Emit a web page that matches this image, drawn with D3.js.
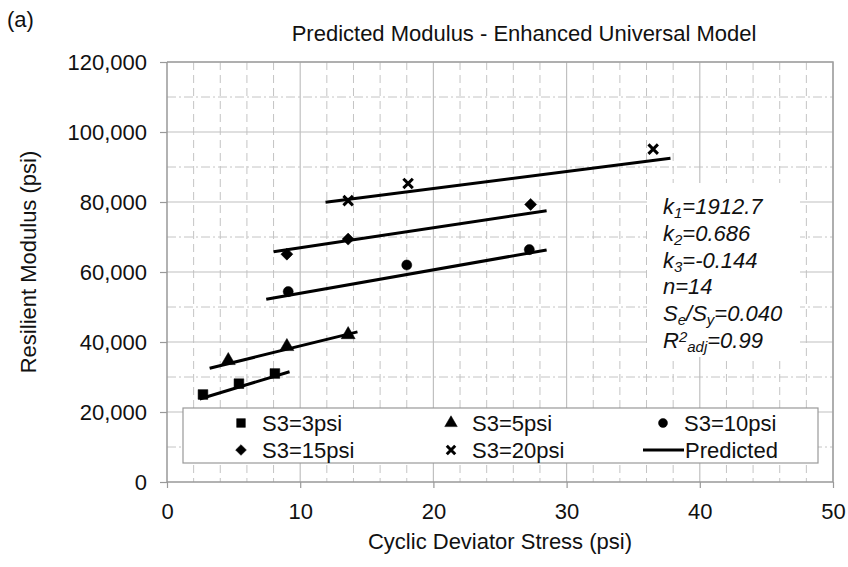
<!DOCTYPE html>
<html>
<head>
<meta charset="utf-8">
<script src="https://cdn.jsdelivr.net/npm/d3@7"></script>
<style>
  body { margin: 0; background: #fff; }
  text { font-family: "Liberation Sans", Arial, sans-serif; fill: #111; }
</style>
</head>
<body>
<div id="chart-area"></div>
<script>
// measured points, one array pair per confining stress
let s3_3_x = [2.7, 5.4, 8.1];
let s3_3_y = [25000, 28100, 31000];
let s3_5_x = [4.6, 9.0, 13.6];
let s3_5_y = [34700, 38700, 42100];
let s3_10_x = [9.1, 18.0, 27.2];
let s3_10_y = [54400, 62000, 66400];
let s3_15_x = [9.0, 13.6, 27.3];
let s3_15_y = [65100, 69400, 79300];
let s3_20_x = [13.6, 18.1, 36.5];
let s3_20_y = [80400, 85300, 95100];

// predicted lines, start and end
let pred_x = [[2.45, 9.2], [3.2, 14.3], [7.45, 28.5], [8.0, 28.5], [11.9, 37.8]];
let pred_y = [[23700, 31500], [32500, 42900], [52200, 66300], [65800, 77500], [79900, 92500]];

let xTicks = [0, 10, 20, 30, 40, 50];
let yTicks = [0, 20000, 40000, 60000, 80000, 100000, 120000];
let legendLabels = ["S3=3psi", "S3=5psi", "S3=10psi", "S3=15psi", "S3=20psi", "Predicted"];

let margin = {top: 62, right: 15, bottom: 85, left: 167};
let width = 848 - margin.left - margin.right;
let height = 567 - margin.top - margin.bottom;

let root = d3.select("#chart-area").append("svg")
    .attr("width", 848)
    .attr("height", 567);

let svg = root.append("g")
    .attr("transform", "translate(" + margin.left + "," + margin.top + ")");

let xScale = d3.scaleLinear().domain([0, 50]).range([0, width]);
let yScale = d3.scaleLinear().domain([0, 120000]).range([height, 0]);

// minor grid
svg.selectAll(".vminor")
    .data(d3.range(2, 50, 2).filter(d => d % 10 !== 0))
    .enter().append("line")
    .attr("x1", d => xScale(d)).attr("x2", d => xScale(d))
    .attr("y1", 0).attr("y2", height)
    .attr("stroke", "#c4c4c4")
    .attr("stroke-width", 1)
    .attr("stroke-dasharray", "8,5");

svg.selectAll(".hminor")
    .data(d3.range(10000, 120000, 20000))
    .enter().append("line")
    .attr("x1", 0).attr("x2", width)
    .attr("y1", d => yScale(d)).attr("y2", d => yScale(d))
    .attr("stroke", "#c4c4c4")
    .attr("stroke-width", 1)
    .attr("stroke-dasharray", "9,3,2,3");

// major grid
svg.selectAll(".vmajor")
    .data(xTicks.slice(1))
    .enter().append("line")
    .attr("x1", d => xScale(d)).attr("x2", d => xScale(d))
    .attr("y1", 0).attr("y2", height)
    .attr("stroke", "#c0c0c0")
    .attr("stroke-width", 1.2);

svg.selectAll(".hmajor")
    .data(yTicks.slice(1))
    .enter().append("line")
    .attr("x1", 0).attr("x2", width)
    .attr("y1", d => yScale(d)).attr("y2", d => yScale(d))
    .attr("stroke", "#c0c0c0")
    .attr("stroke-width", 1.2);

// plot frame top/right
svg.append("path")
    .attr("d", "M0,0H" + width + "V" + height)
    .attr("fill", "none")
    .attr("stroke", "#a0a0a0")
    .attr("stroke-width", 1.5);

// axes
let xAxis = svg.append("g")
    .attr("transform", "translate(0," + height + ")")
    .call(d3.axisBottom(xScale).tickValues(xTicks).tickSize(6).tickPadding(15));

let yAxis = svg.append("g")
    .call(d3.axisLeft(yScale).tickValues(yTicks).tickSize(7).tickPadding(13)
        .tickFormat(d3.format(",")));

[xAxis, yAxis].forEach(ax => {
    ax.select(".domain").attr("stroke", "#999").attr("stroke-width", 1.5);
    ax.selectAll(".tick line").attr("stroke", "#999").attr("stroke-width", 1.2);
    ax.selectAll(".tick text")
        .style("font-family", "'Liberation Sans', Arial, sans-serif")
        .style("font-size", "22px")
        .attr("fill", "#111");
});
xAxis.select(".domain").attr("d", "M0,0H" + width);
yAxis.select(".domain").attr("d", "M0," + height + "V0");

// white panel behind parameters
svg.append("rect")
    .attr("x", 647 - margin.left)
    .attr("y", 183 - margin.top)
    .attr("width", 153)
    .attr("height", 174)
    .attr("fill", "#fff");

// predicted lines
let line = d3.line()
    .x(d => xScale(d[0]))
    .y(d => yScale(d[1]));

pred_x.forEach((xs, i) => {
    svg.append("path")
        .datum(xs.map((x, j) => [x, pred_y[i][j]]))
        .attr("d", line)
        .attr("fill", "none")
        .attr("stroke", "#000")
        .attr("stroke-width", 3);
});

// markers (diamond = square turned 45 degrees)
let series = [
    {x: s3_3_x, y: s3_3_y, type: d3.symbolSquare, size: 95, rot: 0},
    {x: s3_5_x, y: s3_5_y, type: d3.symbolTriangle, size: 85, rot: 0},
    {x: s3_10_x, y: s3_10_y, type: d3.symbolCircle, size: 80, rot: 0},
    {x: s3_15_x, y: s3_15_y, type: d3.symbolSquare, size: 72, rot: 45},
    {x: s3_20_x, y: s3_20_y, type: d3.symbolX, size: 60, rot: 0}
];

function drawMarker(g, s, px, py, scale) {
    g.append("path")
        .attr("transform", "translate(" + px + "," + py + ") rotate(" + s.rot + ")")
        .attr("d", d3.symbol().type(s.type).size(s.size * scale))
        .attr("fill", s.type === d3.symbolX ? "none" : "#000")
        .attr("stroke", "#000")
        .attr("stroke-width", s.type === d3.symbolX ? 3 : 0.5);
}

series.forEach(s => {
    s.x.forEach((x, i) => drawMarker(svg, s, xScale(x), yScale(s.y[i]), 1));
});

// parameter text
let params = [
    [["k", 0], ["1", 1], ["=1912.7", 0]],
    [["k", 0], ["2", 1], ["=0.686", 0]],
    [["k", 0], ["3", 1], ["=-0.144", 0]],
    [["n=14", 0]],
    [["S", 0], ["e", 1], ["/S", 0], ["y", 1], ["=0.040", 0]],
    [["R", 0], ["2", -1], ["adj", 1], ["=0.99", 0]]
];

params.forEach((parts, i) => {
    let t = root.append("text")
        .attr("x", 663)
        .attr("y", 214 + i * 26.8)
        .style("font-size", "22px")
        .style("font-style", "italic");
    let prev = 0;
    parts.forEach(p => {
        let shift = p[1] === 1 ? 4 : (p[1] === -1 ? -6 : 0);
        t.append("tspan")
            .attr("dy", shift - prev)
            .style("font-size", p[1] === 0 ? "22px" : "15px")
            .text(p[0]);
        prev = shift;
    });
});

// legend
let legend = root.append("g");
legend.append("rect")
    .attr("x", 183).attr("y", 408)
    .attr("width", 635).attr("height", 55)
    .attr("fill", "#fff")
    .attr("stroke", "#999")
    .attr("stroke-width", 1.2);

let colX = [241, 451, 663];
legendLabels.forEach((lab, i) => {
    let cx = colX[i % 3];
    let cy = i < 3 ? 423 : 450;
    if (i < 5) {
        drawMarker(legend, series[i], cx, cy, 0.8);
        legend.append("text")
            .attr("x", cx + 21).attr("y", cy + 8)
            .style("font-size", "22px")
            .text(lab);
    } else {
        legend.append("line")
            .attr("x1", 643).attr("x2", 684)
            .attr("y1", cy).attr("y2", cy)
            .attr("stroke", "#000").attr("stroke-width", 3);
        legend.append("text")
            .attr("x", 685).attr("y", cy + 8)
            .style("font-size", "22px")
            .text(lab);
    }
});

// titles
root.append("text")
    .attr("x", 524).attr("y", 41)
    .attr("text-anchor", "middle")
    .style("font-size", "22px")
    .text("Predicted Modulus - Enhanced Universal Model");

root.append("text")
    .attr("x", 7).attr("y", 27)
    .style("font-size", "22px")
    .text("(a)");

root.append("text")
    .attr("x", 500).attr("y", 549)
    .attr("text-anchor", "middle")
    .style("font-size", "22px")
    .text("Cyclic Deviator Stress (psi)");

root.append("text")
    .attr("transform", "translate(36,262) rotate(-90)")
    .attr("text-anchor", "middle")
    .style("font-size", "22px")
    .text("Resilient Modulus (psi)");
</script>
</body>
</html>
